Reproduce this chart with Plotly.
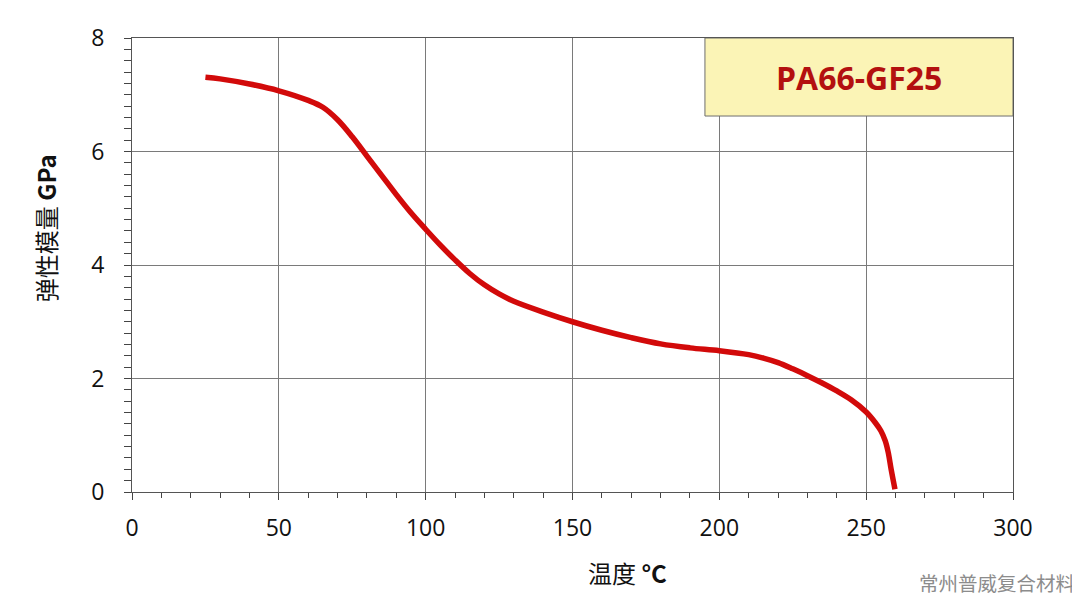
import plotly.graph_objects as go

# Curve data: temperature (°C) vs elastic modulus (GPa)
temp = [25, 30, 40, 50, 60, 65, 70, 75, 80, 85, 90, 95, 100, 105, 110, 115, 120, 125, 130,
        140, 150, 160, 170, 180, 190, 200, 210, 215, 220, 225, 230, 235, 240, 245, 250,
        253, 255, 256.5, 257.5, 258.5, 259.8]
modulus = [7.31, 7.28, 7.19, 7.07, 6.90, 6.78, 6.56, 6.26, 5.92, 5.58, 5.24, 4.92, 4.63,
           4.35, 4.09, 3.85, 3.65, 3.49, 3.36, 3.17, 3.00, 2.85, 2.72, 2.61, 2.54, 2.49,
           2.42, 2.36, 2.28, 2.17, 2.05, 1.92, 1.78, 1.62, 1.41, 1.23, 1.08, 0.90, 0.70,
           0.40, 0.05]

x_ticks = [0, 50, 100, 150, 200, 250, 300]
y_ticks = [0, 2, 4, 6, 8]
label = "PA66-GF25"
x_title = "温度 <b>°C</b>"
y_title = "弹性模量 <b>GPa</b>"
watermark = "常州普威复合材料"

fig = go.Figure()
fig.add_trace(go.Scatter(
    x=temp, y=modulus, mode="lines",
    line=dict(color="#d20a0a", width=5.5, shape="spline", smoothing=1.0),
    hoverinfo="skip", showlegend=False,
))

fig.add_shape(type="rect", xref="x", yref="y", x0=195.1, x1=300, y0=6.625, y1=8,
              fillcolor="#fbf4b6", line=dict(color="#6e6e6e", width=1), layer="above")
fig.add_annotation(x=(195.1 + 300) / 2, y=7.31, xref="x", yref="y", text=f"<b>{label}</b>",
                   showarrow=False, font=dict(family="Open Sans, Noto Sans", size=32, color="#b3100f"))

# axis titles as annotations (offset positions as in the reference)
fig.add_annotation(x=0.562, y=-0.178, xref="paper", yref="paper", text=x_title,
                   showarrow=False, xanchor="center", yanchor="middle",
                   font=dict(family="Noto Sans CJK SC", size=24, color="#111111"))
fig.add_annotation(x=-0.0988, y=0.581, xref="paper", yref="paper", text=y_title,
                   showarrow=False, textangle=-90, xanchor="center", yanchor="middle",
                   font=dict(family="Noto Sans CJK SC", size=24, color="#111111"))

fig.add_annotation(x=1.0, y=-0.2004, xref="paper", yref="paper", xanchor="right", yanchor="middle",
                   text=watermark, showarrow=False,
                   font=dict(family="Noto Sans CJK SC", size=19.5, color="#8c8c8c"), xshift=64)

axis_font = dict(family="Open Sans, Noto Sans", size=23, color="#111111")
fig.update_layout(
    width=1072, height=600,
    margin=dict(l=124, r=67, t=30, b=116),
    paper_bgcolor="white", plot_bgcolor="white",
    xaxis=dict(
        range=[0, 300], tickvals=x_ticks, tickfont=axis_font,
        showgrid=True, gridcolor="#7a7a7a", gridwidth=1,
        showline=True, linecolor="#555555", linewidth=1.2, mirror=True,
        ticks="outside", ticklen=7, tickcolor="#444444", ticklabelstandoff=8,
        minor=dict(dtick=10, ticks="outside", ticklen=5, tickcolor="#444444", showgrid=False),
        zeroline=False,
    ),
    yaxis=dict(
        range=[0, 8], tickvals=y_ticks, tickfont=axis_font,
        showgrid=True, gridcolor="#7a7a7a", gridwidth=1,
        showline=True, linecolor="#555555", linewidth=1.2, mirror=True,
        ticks="outside", ticklen=7, tickcolor="#444444", ticklabelstandoff=15,
        minor=dict(dtick=0.2, ticks="outside", ticklen=7, tickcolor="#444444", showgrid=False),
        zeroline=False,
    ),
)

fig.write_html("out.html")
